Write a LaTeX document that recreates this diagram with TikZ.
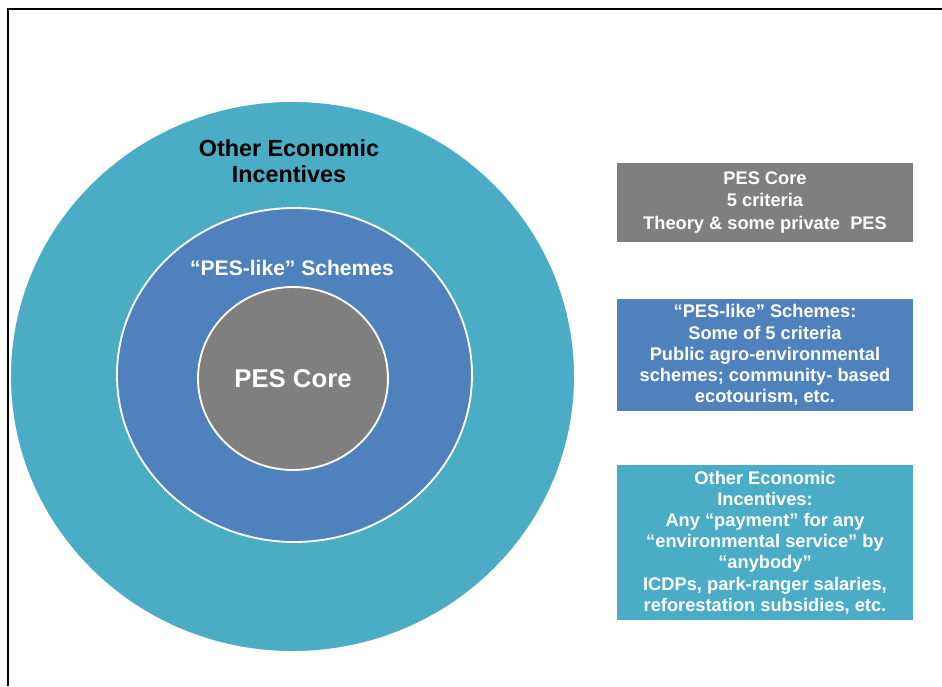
\documentclass[tikz,border=0pt]{standalone}
\usepackage{fontspec}
\setmainfont{Liberation Sans}
\usetikzlibrary{shapes.geometric}
\definecolor{coregray}{HTML}{7F7F7F}
\definecolor{likeblue}{HTML}{4F81BD}
\definecolor{otherteal}{HTML}{4BACC6}
\tikzset{
  ring/.style={ellipse,draw=white,line width=1.4pt,inner sep=0pt},
  infobox/.style={rectangle,text=white,align=center,inner sep=0pt,minimum width=222pt,
    font=\bfseries\fontsize{13.7}{15.9}\selectfont}
}
\begin{document}
\begin{tikzpicture}[x=0.75pt,y=0.75pt]
\useasboundingbox (0,0) rectangle (942,686);
\draw[line width=1.6pt] (8,0) -- (8,677) -- (942,677);
% nested circles
\node[ring,fill=otherteal,minimum width=423.75pt,minimum height=413.25pt] (other) at (292.5,309.5) {};
\node[ring,fill=likeblue,minimum width=266.25pt,minimum height=250.5pt] (like) at (294.5,311) {};
\node[ring,fill=coregray,minimum width=142.5pt,minimum height=137.25pt,text=white,
  font=\bfseries\fontsize{19.3}{22}\selectfont] (core) at (293,307.5) {PES Core};
\node[align=center,font=\bfseries\fontsize{17.5}{20}\selectfont] (otherlabel) at (289,525) {Other Economic\\Incentives};
\node[text=white,font=\bfseries\fontsize{15.8}{18}\selectfont] (likelabel) at (292,418) {“PES-like” Schemes};
% legend boxes
\node[infobox,fill=coregray,minimum height=59.25pt,font=\bfseries\fontsize{13.7}{16.9}\selectfont] (corebox) at (765,483.5)
  {PES Core\\5 criteria\\Theory \& some private\ \ PES};
\node[infobox,fill=likeblue,minimum height=84pt] (likebox) at (765,331)
  {“PES-like” Schemes:\\Some of 5 criteria\\Public agro-environmental\\schemes; community- based\\ecotourism, etc.};
\node[infobox,fill=otherteal,minimum height=116.25pt] (otherbox) at (765,143.5)
  {Other Economic\\Incentives:\\Any “payment” for any\\“environmental service” by\\“anybody”\\ICDPs, park-ranger salaries,\\reforestation subsidies, etc.};
\end{tikzpicture}
\end{document}
